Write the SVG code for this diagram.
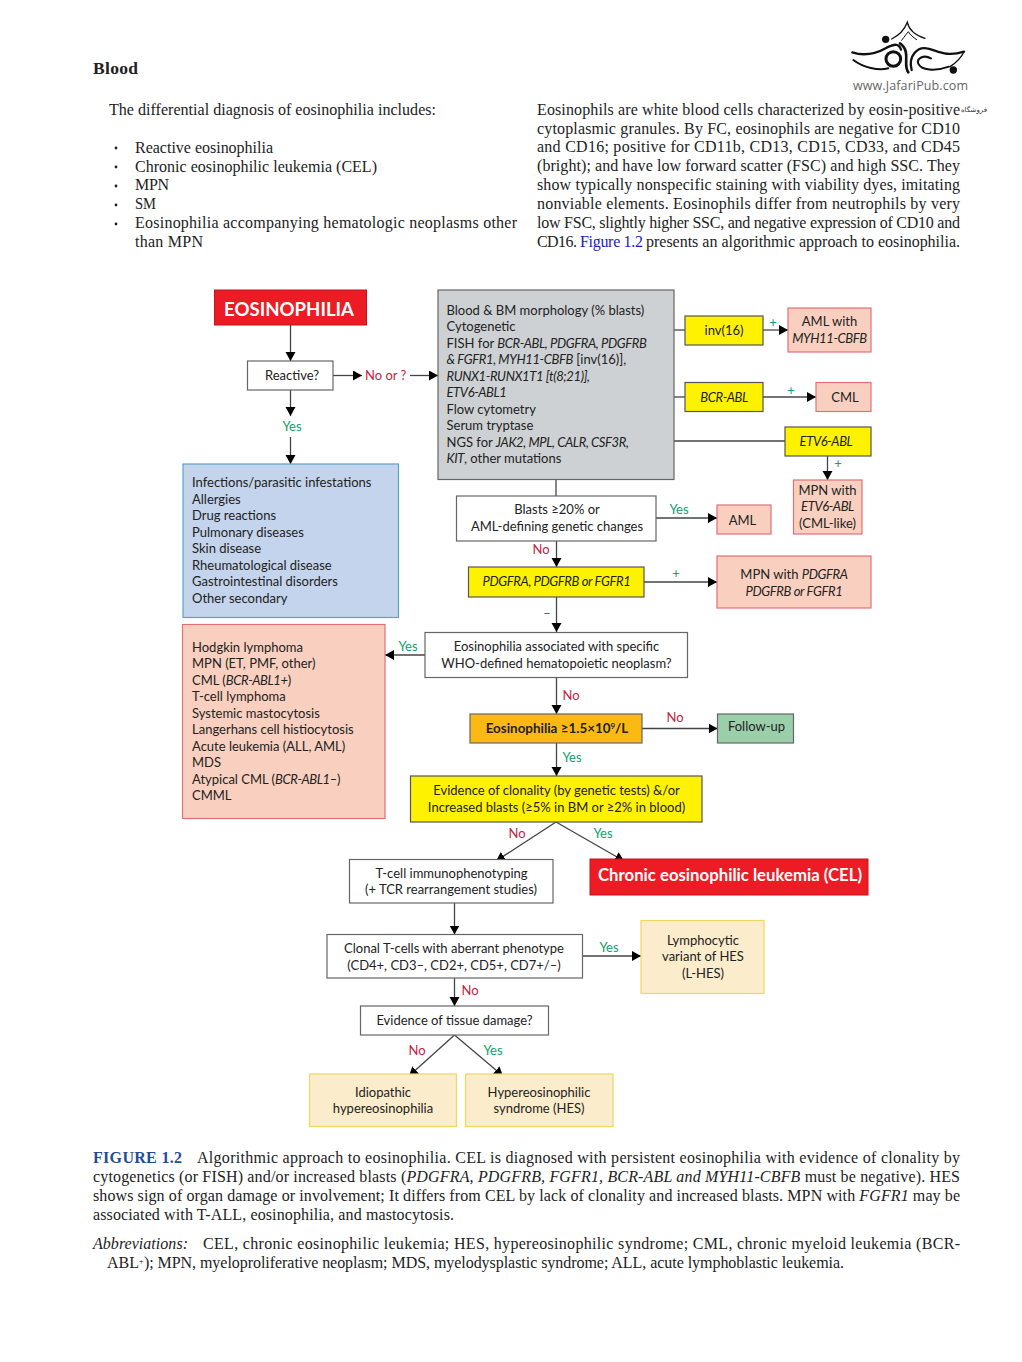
<svg xmlns="http://www.w3.org/2000/svg" width="1022" height="1362" viewBox="0 0 1022 1362">
<style>
.b{font-family:"Liberation Serif",serif;font-size:16px;fill:#222}
.d{font-family:"Lato","Noto Sans",sans-serif;font-size:13px;fill:#222}
.c{text-anchor:middle}
.i{font-style:italic}
.d.i,.d .i{letter-spacing:-.37px}
.g{fill:#12a06e}
.r{fill:#c8213f}
.w{fill:#fff;stroke:#666;stroke-width:1.2}
.y{fill:#fff200;stroke:#555;stroke-width:1.2}
.p{fill:#f9d0bf;stroke:#e0707a;stroke-width:1.2}
.e{fill:#fbeccb;stroke:#f0d860;stroke-width:1.2}
.red{fill:#ed1c24;stroke:#c5141c;stroke-width:1}
#con line{stroke:#444;stroke-width:1.3;fill:none}
#con line.a{marker-end:url(#ah)}
</style>
<defs><marker id="ah" markerUnits="userSpaceOnUse" markerWidth="11" markerHeight="11" refX="9" refY="5" orient="auto"><path d="M0,0L9,5L0,10Z" fill="#000"/></marker></defs>
<rect width="1022" height="1362" fill="#fff"/>

<g id="logo" transform="translate(845 15) scale(.3333)" fill="none" stroke="#111" stroke-linecap="round">
<path d="M140,72C165,60 180,40 187,22C192,45 215,62 240,70" stroke-width="4"/>
<path d="M170,76C180,62 186,55 190,50C196,60 205,68 215,74" stroke-width="3"/>
<circle cx="122" cy="73" r="11" fill="#111" stroke="none"/>
<path d="M22,112C60,125 100,112 125,98C150,86 162,85 168,104" stroke-width="7"/>
<path d="M25,135C55,158 100,168 130,160" stroke-width="6"/>
<circle cx="145" cy="132" r="22" stroke-width="9"/>
<path d="M165,85C200,110 172,150 190,172" stroke-width="8"/>
<path d="M200,165C188,120 220,95 245,100C275,105 300,128 357,110" stroke-width="7"/>
<path d="M357,110C348,130 330,145 315,155" stroke-width="4"/>
<path d="M258,130C236,118 214,130 220,146C228,166 270,170 312,155" stroke-width="6"/>
<circle cx="325" cy="165" r="11" fill="#111" stroke="none"/>
</g>
<text x="853" y="90" font-family="Open Sans,sans-serif" font-size="12.5" fill="#666" textLength="115">www.JafariPub.com</text>
<text x="987" y="112" font-family="DejaVu Sans,sans-serif" font-size="7" fill="#333" text-anchor="start" direction="rtl" xml:lang="fa">فروشگاه</text>

<g id="body">
<text class="b" x="93" y="74" font-weight="bold" style="font-size:17.5px" textLength="45">Blood</text>
<text class="b" x="109" y="115" textLength="327">The differential diagnosis of eosinophilia includes:</text>
<g fill="#222"><circle cx="116" cy="148" r="1.4"/><circle cx="116" cy="167" r="1.4"/><circle cx="116" cy="186" r="1.4"/><circle cx="116" cy="205" r="1.4"/><circle cx="116" cy="224" r="1.4"/></g>
<text class="b" x="135" y="153" textLength="138">Reactive eosinophilia</text>
<text class="b" x="135" y="172" textLength="242">Chronic eosinophilic leukemia (CEL)</text>
<text class="b" x="135" y="190" textLength="34">MPN</text>
<text class="b" x="135" y="209" textLength="21" lengthAdjust="spacingAndGlyphs">SM</text>
<text class="b" x="135" y="228" textLength="382">Eosinophilia accompanying hematologic neoplasms other</text>
<text class="b" x="135" y="247" textLength="68">than MPN</text>
<text class="b" x="537" y="115" textLength="423">Eosinophils are white blood cells characterized by eosin-positive</text>
<text class="b" x="537" y="134" textLength="423">cytoplasmic granules. By FC, eosinophils are negative for CD10</text>
<text class="b" x="537" y="152" textLength="423">and CD16; positive for CD11b, CD13, CD15, CD33, and CD45</text>
<text class="b" x="537" y="171" textLength="423">(bright); and have low forward scatter (FSC) and high SSC. They</text>
<text class="b" x="537" y="190" textLength="423">show typically nonspecific staining with viability dyes, imitating</text>
<text class="b" x="537" y="209" textLength="423">nonviable elements. Eosinophils differ from neutrophils by very</text>
<text class="b" x="537" y="228" textLength="423">low FSC, slightly higher SSC, and negative expression of CD10 and</text>
<text class="b" x="537" y="247" textLength="40">CD16.</text>
<text class="b" x="580" y="247" style="fill:#1a1ac8" textLength="63">Figure 1.2</text>
<text class="b" x="646" y="247" textLength="314">presents an algorithmic approach to eosinophilia.</text>
</g>

<g id="con">
<line class="a" x1="290.5" y1="325" x2="290.5" y2="361"/>
<line class="a" x1="333" y1="375.5" x2="362" y2="375.5"/>
<line class="a" x1="410" y1="375.5" x2="438" y2="375.5"/>
<line class="a" x1="290.5" y1="390" x2="290.5" y2="416"/>
<line class="a" x1="290.5" y1="437" x2="290.5" y2="464"/>
<line x1="674" y1="330" x2="685" y2="330"/>
<line class="a" x1="763" y1="330" x2="788" y2="330"/>
<line x1="674" y1="397" x2="685" y2="397"/>
<line class="a" x1="763" y1="397" x2="816" y2="397"/>
<line x1="674" y1="441" x2="785" y2="441"/>
<line class="a" x1="827.5" y1="456" x2="827.5" y2="480"/>
<line x1="556" y1="479.5" x2="556" y2="496"/>
<line class="a" x1="656" y1="518" x2="717" y2="518"/>
<line class="a" x1="556.5" y1="541" x2="556.5" y2="567"/>
<line class="a" x1="644" y1="582" x2="717" y2="582"/>
<line class="a" x1="556.5" y1="597" x2="556.5" y2="632"/>
<line class="a" x1="425" y1="655" x2="385" y2="655"/>
<line class="a" x1="556.5" y1="677.5" x2="556.5" y2="714"/>
<line class="a" x1="642" y1="728.5" x2="717.5" y2="728.5"/>
<line class="a" x1="556.5" y1="743" x2="556.5" y2="776"/>
<line class="a" x1="556" y1="822" x2="496" y2="861"/>
<line class="a" x1="556" y1="822" x2="624" y2="861"/>
<line class="a" x1="454.5" y1="903" x2="454.5" y2="934.5"/>
<line class="a" x1="582.5" y1="956" x2="641" y2="956"/>
<line class="a" x1="454.5" y1="978" x2="454.5" y2="1006"/>
<line class="a" x1="454.5" y1="1035" x2="409" y2="1076"/>
<line class="a" x1="454.5" y1="1035" x2="503" y2="1076"/>
</g>

<g id="edge-labels">
<text class="d r" x="365" y="380">No or ?</text>
<text class="d g c" x="292" y="431">Yes</text>
<text class="d g c" x="773" y="327">+</text>
<text class="d g c" x="791" y="395">+</text>
<text class="d g c" x="838" y="468">+</text>
<text class="d g c" x="679" y="514">Yes</text>
<text class="d r c" x="541" y="554">No</text>
<text class="d g c" x="676" y="578">+</text>
<text class="d r c" x="547" y="618">–</text>
<text class="d g c" x="408" y="651">Yes</text>
<text class="d r c" x="571" y="700">No</text>
<text class="d r c" x="675" y="722">No</text>
<text class="d g c" x="572" y="762">Yes</text>
<text class="d r c" x="517" y="838">No</text>
<text class="d g c" x="603" y="838">Yes</text>
<text class="d g c" x="609" y="952">Yes</text>
<text class="d r c" x="470" y="995">No</text>
<text class="d r c" x="417" y="1055">No</text>
<text class="d g c" x="493" y="1055">Yes</text>
</g>

<g id="n-eosinophilia"><rect class="red" x="214.5" y="290" width="152" height="35"/><text class="d" x="224" y="316" font-weight="bold" style="fill:#fff;font-size:19px" textLength="130" lengthAdjust="spacingAndGlyphs">EOSINOPHILIA</text></g>
<g id="n-reactive"><rect class="w" x="247.5" y="361" width="85.5" height="29"/><text class="d c" x="292" y="380">Reactive?</text></g>
<g id="n-secondary"><rect x="183" y="464" width="215.5" height="153.5" fill="#c3d4ec" stroke="#5ba3c4" stroke-width="1.2"/>
<text class="d" x="192" y="487">Infections/parasitic infestations</text>
<text class="d" x="192" y="504">Allergies</text>
<text class="d" x="192" y="520">Drug reactions</text>
<text class="d" x="192" y="537">Pulmonary diseases</text>
<text class="d" x="192" y="553">Skin disease</text>
<text class="d" x="192" y="570">Rheumatological disease</text>
<text class="d" x="192" y="586">Gastrointestinal disorders</text>
<text class="d" x="192" y="603">Other secondary</text></g>
<g id="n-workup"><rect x="438" y="290" width="236" height="189.5" fill="#cdd1d3" stroke="#666" stroke-width="1.2"/>
<text class="d" x="446.5" y="315">Blood &amp; BM morphology (% blasts)</text>
<text class="d" x="446.5" y="331">Cytogenetic</text>
<text class="d" x="446.5" y="348">FISH for <tspan class="i">BCR-ABL, PDGFRA, PDGFRB</tspan></text>
<text class="d" x="446.5" y="364"><tspan class="i">&amp; FGFR1, MYH11-CBFB</tspan> [inv(16)],</text>
<text class="d i" x="446.5" y="381">RUNX1-RUNX1T1 [t(8;21)],</text>
<text class="d i" x="446.5" y="397">ETV6-ABL1</text>
<text class="d" x="446.5" y="414">Flow cytometry</text>
<text class="d" x="446.5" y="430">Serum tryptase</text>
<text class="d" x="446.5" y="447">NGS for <tspan class="i">JAK2, MPL, CALR, CSF3R,</tspan></text>
<text class="d" x="446.5" y="463"><tspan class="i">KIT</tspan>, other mutations</text></g>
<g id="n-inv16"><rect class="y" x="685" y="316" width="78" height="29"/><text class="d c" x="724" y="335">inv(16)</text></g>
<g id="n-aml-myh"><rect class="p" x="788" y="308" width="83" height="44"/><text class="d c" x="829.5" y="326">AML with</text><text class="d c i" x="829.5" y="343">MYH11-CBFB</text></g>
<g id="n-bcr"><rect class="y" x="685" y="382.5" width="78" height="29"/><text class="d c i" x="724" y="402">BCR-ABL</text></g>
<g id="n-cml"><rect class="p" x="816" y="382.5" width="55" height="29"/><text class="d c" x="845" y="402">CML</text></g>
<g id="n-etv"><rect class="y" x="785" y="427" width="86" height="29"/><text class="d c i" x="826" y="446">ETV6-ABL</text></g>
<g id="n-mpn-etv"><rect class="p" x="793.5" y="480" width="68.5" height="54"/><text class="d c" x="827.5" y="494.5">MPN with</text><text class="d c i" x="827.5" y="511">ETV6-ABL</text><text class="d c" x="827.5" y="528">(CML-like)</text></g>
<g id="n-blasts"><rect class="w" x="456.5" y="496" width="199.5" height="45"/><text class="d c" x="557" y="514">Blasts ≥20% or</text><text class="d c" x="557" y="531">AML-defining genetic changes</text></g>
<g id="n-aml"><rect class="p" x="717" y="505" width="54" height="29"/><text class="d c" x="742.5" y="525">AML</text></g>
<g id="n-pdgfra"><rect class="y" x="468.5" y="567" width="175.5" height="30"/><text class="d c i" x="556.5" y="586">PDGFRA, PDGFRB or FGFR1</text></g>
<g id="n-mpn-pdg"><rect class="p" x="717" y="556" width="154" height="52"/><text class="d c" x="794" y="579">MPN with <tspan class="i">PDGFRA</tspan></text><text class="d c i" x="794" y="596">PDGFRB or FGFR1</text></g>
<g id="n-neoplasms"><rect class="p" x="182.5" y="624.5" width="202.5" height="194"/>
<text class="d" x="192" y="652">Hodgkin lymphoma</text>
<text class="d" x="192" y="668">MPN (ET, PMF, other)</text>
<text class="d" x="192" y="685">CML (<tspan class="i">BCR-ABL1+</tspan>)</text>
<text class="d" x="192" y="701">T-cell lymphoma</text>
<text class="d" x="192" y="718">Systemic mastocytosis</text>
<text class="d" x="192" y="734">Langerhans cell histiocytosis</text>
<text class="d" x="192" y="751">Acute leukemia (ALL, AML)</text>
<text class="d" x="192" y="767">MDS</text>
<text class="d" x="192" y="784">Atypical CML (<tspan class="i">BCR-ABL1–</tspan>)</text>
<text class="d" x="192" y="800">CMML</text></g>
<g id="n-who"><rect class="w" x="425" y="632.5" width="262.5" height="45"/><text class="d c" x="556.5" y="651">Eosinophilia associated with specific</text><text class="d c" x="556.5" y="668">WHO-defined hematopoietic neoplasm?</text></g>
<g id="n-count"><rect x="470" y="714" width="172" height="29" fill="#fdb913" stroke="#666" stroke-width="1.2"/><text class="d c" x="557" y="733" font-weight="bold" style="font-size:13.4px">Eosinophilia ≥1.5×10<tspan dy="-4" font-size="8">9</tspan><tspan dy="4">/L</tspan></text></g>
<g id="n-follow"><rect x="717.5" y="714" width="76" height="29" fill="#9bcfa9" stroke="#666" stroke-width="1.2"/><text class="d c" x="756.5" y="731">Follow-up</text></g>
<g id="n-clonality"><rect class="y" x="410.5" y="776" width="291.5" height="46"/><text class="d c" x="556.5" y="795">Evidence of clonality (by genetic tests) &amp;/or</text><text class="d c" x="556.5" y="812">Increased blasts (≥5% in BM or ≥2% in blood)</text></g>
<g id="n-cel"><rect class="red" x="590" y="859" width="278" height="36"/><text class="d" x="598" y="881" font-weight="bold" style="fill:#fff;font-size:16.5px" textLength="264" lengthAdjust="spacingAndGlyphs">Chronic eosinophilic leukemia (CEL)</text></g>
<g id="n-tcell"><rect class="w" x="349.5" y="859.5" width="203.5" height="43.5"/><text class="d c" x="451.5" y="878">T-cell immunophenotyping</text><text class="d c" x="451" y="894">(+ TCR rearrangement studies)</text></g>
<g id="n-clonal"><rect class="w" x="327" y="934.5" width="255.5" height="43.5"/><text class="d c" x="454" y="953">Clonal T-cells with aberrant phenotype</text><text class="d c" x="454" y="970">(CD4+, CD3–, CD2+, CD5+, CD7+/–)</text></g>
<g id="n-lhes"><rect class="e" x="641" y="920.5" width="123" height="73"/><text class="d c" x="703" y="945">Lymphocytic</text><text class="d c" x="703" y="961">variant of HES</text><text class="d c" x="703" y="978">(L-HES)</text></g>
<g id="n-tissue"><rect class="w" x="360.5" y="1006" width="188" height="29"/><text class="d c" x="454.5" y="1025">Evidence of tissue damage?</text></g>
<g id="n-idio"><rect class="e" x="309.5" y="1074" width="147" height="52.5"/><text class="d c" x="383" y="1097">Idiopathic</text><text class="d c" x="383" y="1113">hypereosinophilia</text></g>
<g id="n-hes"><rect class="e" x="465.5" y="1074" width="147.5" height="52.5"/><text class="d c" x="539" y="1097">Hypereosinophilic</text><text class="d c" x="539" y="1113">syndrome (HES)</text></g>

<g id="caption">
<text class="b" x="93" y="1163" font-weight="bold" style="fill:#1f4e96" textLength="89">FIGURE 1.2</text>
<text class="b" x="197" y="1163" textLength="763">Algorithmic approach to eosinophilia. CEL is diagnosed with persistent eosinophilia with evidence of clonality by</text>
<text class="b" x="93" y="1182" textLength="867">cytogenetics (or FISH) and/or increased blasts (<tspan class="i">PDGFRA, PDGFRB, FGFR1, BCR-ABL and MYH11-CBFB</tspan> must be negative). HES</text>
<text class="b" x="93" y="1201" textLength="867">shows sign of organ damage or involvement; It differs from CEL by lack of clonality and increased blasts. MPN with <tspan class="i">FGFR1</tspan> may be</text>
<text class="b" x="93" y="1220" textLength="361">associated with T-ALL, eosinophilia, and mastocytosis.</text>
<text class="b i" x="93" y="1249" textLength="95">Abbreviations:</text>
<text class="b" x="203" y="1249" textLength="757">CEL, chronic eosinophilic leukemia; HES, hypereosinophilic syndrome; CML, chronic myeloid leukemia (BCR-</text>
<text class="b" x="107" y="1268" textLength="737">ABL<tspan dy="-4" font-size="9">+</tspan><tspan dy="4">); MPN, myeloproliferative neoplasm; MDS, myelodysplastic syndrome; ALL, acute lymphoblastic leukemia.</tspan></text>
</g>
</svg>
